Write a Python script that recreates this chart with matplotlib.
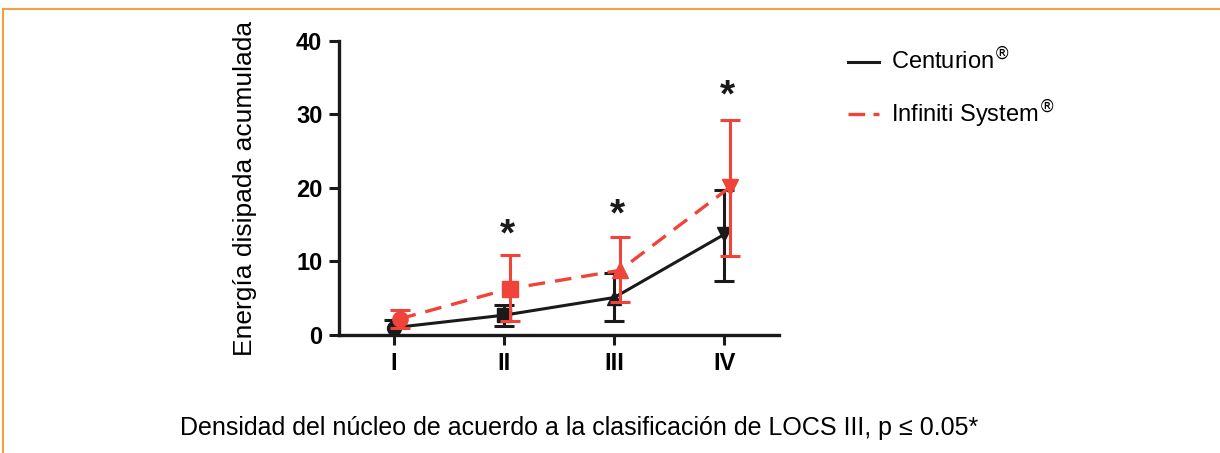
import numpy as np
import matplotlib.pyplot as plt
from matplotlib.lines import Line2D

plt.rcParams['font.family'] = ['Liberation Sans', 'DejaVu Sans']

grades = ['I', 'II', 'III', 'IV']
centurion = [1.0, 2.7, 5.1, 13.7]
centurion_lo = [0.0, 1.2, 1.9, 7.4]
centurion_hi = [2.1, 4.1, 8.4, 19.7]
infiniti = [2.2, 6.3, 8.8, 20.1]
infiniti_lo = [0.9, 1.9, 4.5, 10.7]
infiniti_hi = [3.4, 10.9, 13.3, 29.2]
star_y = [None, 13.5, 16.3, 32.4]
markers = ['o', 's', '^', 'v']

black = '#1a1a1a'
red = '#f0443a'


def main():
  fig = plt.figure(figsize=(12.2, 4.53), dpi=100)
  ax = fig.add_axes([0.2779, 0.2605, 0.361, 0.649])

  x = np.arange(1, len(grades) + 1)
  xr = x + 0.05

  # lines
  ax.plot(x, centurion, '-', color=black, lw=2.2, zorder=2)
  ax.plot(xr, infiniti, '--', color=red, lw=2.4, dashes=(5, 3), zorder=3)

  # error bars and markers, one shape per grade
  for i in range(len(grades)):
    ax.errorbar(x[i], centurion[i],
                yerr=[[centurion[i] - centurion_lo[i]], [centurion_hi[i] - centurion[i]]],
                fmt=markers[i], color=black, ms=10, capsize=7, capthick=2.2, elinewidth=2.2, zorder=2)
    ax.errorbar(xr[i], infiniti[i],
                yerr=[[infiniti[i] - infiniti_lo[i]], [infiniti_hi[i] - infiniti[i]]],
                fmt=markers[i], color=red, ms=11, capsize=7, capthick=2.2, elinewidth=2.2, zorder=3)
    if star_y[i] is not None:
      ax.text(x[i] + 0.03, star_y[i], '*', ha='center', va='center', fontsize=28,
              fontweight='bold', color=black)

  ax.set_xlim(0.5, 4.5)
  ax.set_ylim(0, 40)
  ax.set_yticks([0, 10, 20, 30, 40])
  ax.set_xticks(x)
  ax.set_xticklabels(grades)
  for lab in ax.get_xticklabels() + ax.get_yticklabels():
    lab.set_fontweight('bold')
    lab.set_fontsize(17)
  ax.tick_params(direction='out', length=7, width=2.2, color=black, pad=5)
  for s in ['top', 'right']:
    ax.spines[s].set_visible(False)
  for s in ['left', 'bottom']:
    ax.spines[s].set_linewidth(2.4)
    ax.spines[s].set_color(black)
  ax.set_ylabel('Energía disipada acumulada', fontsize=19, labelpad=28)

  fig.text(0.475, 0.055, 'Densidad del núcleo de acuerdo a la clasificación de LOCS III, p ≤ 0.05*',
           ha='center', va='center', fontsize=18)

  handles = [Line2D([], [], color=black, lw=2.2),
             Line2D([], [], color=red, lw=2.4, ls='--', dashes=(5, 2.5))]
  fig.legend(handles, ['Centurion$^{®}$', 'Infiniti System$^{®}$'],
             loc='upper left', bbox_to_anchor=(0.678, 0.942), frameon=False,
             fontsize=17, handlelength=1.3, handletextpad=0.5, labelspacing=0.95)

  # orange frame
  orange = '#f4a040'
  fig.add_artist(Line2D([0.0025, 1.0], [0.980, 0.980], color=orange, lw=1.5))
  fig.add_artist(Line2D([0.0025, 0.0025], [0.0, 0.980], color=orange, lw=1.5))

  fig.savefig('out.png', dpi=100)


if __name__ == "__main__":
  main()
